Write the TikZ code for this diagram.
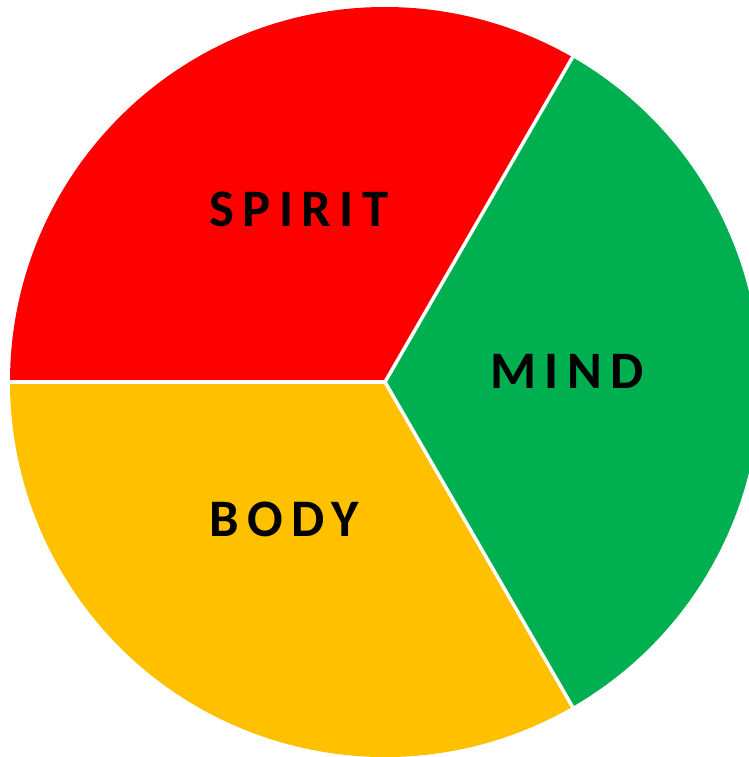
\documentclass[tikz,border=0pt]{standalone}
\usepackage{fontspec}
\setmainfont{Carlito}
\usepackage{tikz}
\usetikzlibrary{positioning,calc}

\definecolor{spiritred}{HTML}{FF0000}
\definecolor{mindgreen}{HTML}{00B050}
\definecolor{bodyyellow}{HTML}{FFC000}

\begin{document}
\begin{tikzpicture}[
        part/.style={font=\fontsize{30}{36}\selectfont\bfseries\addfontfeatures{LetterSpace=16},
                     text=black, inner sep=0pt},
        cut/.style={draw=white, line width=2pt}]
    \useasboundingbox (0,0) rectangle (14.98,15.14);
    \clip (0,0) rectangle (14.98,15.14);
    \coordinate (ctr) at (7.70,7.50);
    % the three slices
    \fill[spiritred]  (ctr) -- ++(180:7.5) arc[start angle=180, end angle=60,  radius=7.5cm] -- cycle;
    \fill[mindgreen]  (ctr) -- ++(60:7.5)  arc[start angle=60,  end angle=-60, radius=7.5cm] -- cycle;
    \fill[bodyyellow] (ctr) -- ++(-60:7.5) arc[start angle=-60, end angle=-180, radius=7.5cm] -- cycle;
    \coordinate (w)  at ($(ctr)+(180:7.5)$);
    \coordinate (ne) at ($(ctr)+(60:7.5)$);
    \coordinate (se) at ($(ctr)+(-60:7.5)$);
    \draw[cut] (ctr) -- (w);
    \draw[cut] (ctr) -- (ne);
    \draw[cut] (ctr) -- (se);
    \node[part] (spirit) at (5.98,10.96) {SPIRIT};
    \node[part] (mind)   at (11.34,7.72) {MIND};
    \node[part] (body)   at (5.69,4.76)  {BODY};
\end{tikzpicture}
\end{document}
